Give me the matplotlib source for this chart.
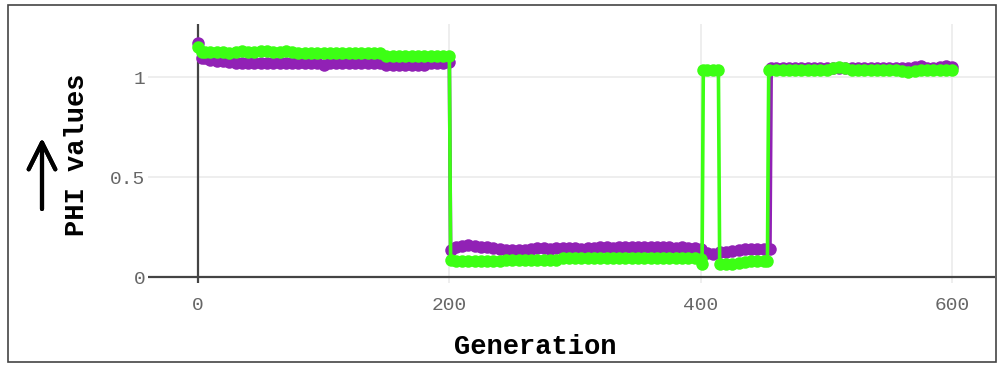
import matplotlib

matplotlib.use("Agg")
import matplotlib.pyplot as plt
from matplotlib.patches import Rectangle

# --- PHI per generation, two runs ---
purple_gen = [0, 3, 6, 10, 15, 20, 25, 30, 35, 40, 45, 50, 55, 60, 65, 70, 75, 80, 85, 90, 95,
              100, 105, 110, 115, 120, 125, 130, 135, 140, 145, 150, 155, 160, 165, 170, 175,
              180, 185, 190, 195, 200,
              201, 205, 210, 215, 220, 225, 230, 235, 240, 245, 250, 255, 260, 265, 270, 275,
              280, 285, 290, 295, 300, 305, 310, 315, 320, 325, 330, 335, 340, 345, 350, 355,
              360, 365, 370, 375, 380, 385, 390, 395, 400, 405, 410, 415, 420, 425, 430, 435,
              440, 445, 450, 455,
              456, 460, 465, 470, 475, 480, 485, 490, 495, 500, 505, 510, 515, 520, 525, 530,
              535, 540, 545, 550, 555, 560, 565, 570, 575, 580, 585, 590, 595, 600]
purple_phi = [1.17, 1.095, 1.095, 1.085, 1.08, 1.08, 1.075, 1.07, 1.07, 1.07, 1.07, 1.07, 1.07,
              1.07, 1.07, 1.07, 1.07, 1.07, 1.07, 1.07, 1.07,
              1.06, 1.07, 1.07, 1.07, 1.07, 1.07, 1.07, 1.07, 1.07, 1.07, 1.06, 1.06, 1.06,
              1.06, 1.06, 1.06, 1.06, 1.07, 1.07, 1.07, 1.075,
              0.135, 0.15, 0.155, 0.16, 0.155, 0.15, 0.15, 0.145, 0.14, 0.135, 0.135, 0.135,
              0.135, 0.14, 0.145, 0.145, 0.14, 0.145, 0.145, 0.145, 0.145, 0.14, 0.145, 0.145,
              0.15, 0.15, 0.145, 0.15, 0.15, 0.15, 0.15, 0.15, 0.15, 0.15, 0.15, 0.15, 0.145,
              0.15, 0.145, 0.145, 0.14, 0.12, 0.115, 0.125, 0.125, 0.13, 0.135, 0.14, 0.14,
              0.14, 0.14, 0.14,
              1.045, 1.045, 1.045, 1.045, 1.045, 1.045, 1.045, 1.045, 1.045, 1.045, 1.045,
              1.045, 1.045, 1.045, 1.045, 1.045, 1.045, 1.045, 1.045, 1.045, 1.045, 1.045,
              1.045, 1.05, 1.055, 1.045, 1.045, 1.05, 1.055, 1.05]

green_gen = [0, 3, 6, 10, 15, 20, 25, 30, 35, 40, 45, 50, 55, 60, 65, 70, 75, 80, 85, 90, 95,
             100, 105, 110, 115, 120, 125, 130, 135, 140, 145, 150, 155, 160, 165, 170, 175,
             180, 185, 190, 195, 200,
             201, 205, 210, 215, 220, 225, 230, 235, 240, 245, 250, 255, 260, 265, 270, 275,
             280, 285, 290, 295, 300, 305, 310, 315, 320, 325, 330, 335, 340, 345, 350, 355,
             360, 365, 370, 375, 380, 385, 390, 395, 400, 401,
             402, 405, 410, 414,
             415, 420, 425, 430, 435, 440, 445, 450, 453,
             454, 460, 465, 470, 475, 480, 485, 490, 495, 500, 505, 510, 515, 520, 525, 530,
             535, 540, 545, 550, 555, 560, 565, 570, 575, 580, 585, 590, 595, 600]
green_phi = [1.15, 1.125, 1.125, 1.125, 1.125, 1.125, 1.12, 1.125, 1.13, 1.125, 1.125, 1.13,
             1.13, 1.125, 1.125, 1.13, 1.125, 1.12, 1.12, 1.12, 1.12,
             1.12, 1.12, 1.12, 1.12, 1.12, 1.12, 1.12, 1.12, 1.12, 1.12, 1.105, 1.105, 1.105,
             1.105, 1.105, 1.105, 1.105, 1.105, 1.105, 1.105, 1.105,
             0.085, 0.08, 0.08, 0.08, 0.08, 0.08, 0.08, 0.08, 0.08, 0.085, 0.085, 0.085,
             0.085, 0.085, 0.085, 0.085, 0.085, 0.085, 0.095, 0.095, 0.095, 0.095, 0.095,
             0.095, 0.095, 0.095, 0.095, 0.095, 0.095, 0.095, 0.095, 0.095, 0.095, 0.095,
             0.095, 0.095, 0.095, 0.095, 0.095, 0.095, 0.09, 0.065,
             1.035, 1.035, 1.035, 1.035,
             0.065, 0.065, 0.065, 0.07, 0.075, 0.08, 0.08, 0.08, 0.08,
             1.035, 1.035, 1.035, 1.035, 1.035, 1.035, 1.035, 1.035, 1.035, 1.035, 1.045,
             1.05, 1.045, 1.035, 1.035, 1.035, 1.035, 1.035, 1.035, 1.035, 1.035, 1.03,
             1.025, 1.03, 1.035, 1.035, 1.035, 1.035, 1.035, 1.035]

x_ticks = [0, 200, 400, 600]
y_ticks = [0, 0.5, 1]
y_tick_labels = ["0", "0.5", "1"]

PURPLE = "#9121b5"
GREEN = "#3cff14"
MONO = ["Liberation Mono", "DejaVu Sans Mono"]

fig = plt.figure(figsize=(9.97, 3.65), dpi=100)
ax = fig.add_axes([148 / 997, 1 - 283 / 365, (995 - 148) / 997, (283 - 24) / 365])

for gen, phi, col in [(purple_gen, purple_phi, PURPLE), (green_gen, green_phi, GREEN)]:
    ax.plot(gen, phi, "-", color=col, lw=2.6, marker="o", ms=9, mew=0,
            solid_capstyle="round", zorder=4)

ax.set_xlim(-39.7, 634)
ax.set_ylim(-0.03, 1.265)

# grid + zero lines
ax.set_xticks(x_ticks)
ax.set_yticks(y_ticks)
ax.set_yticklabels(y_tick_labels)
ax.set_axisbelow(True)
ax.grid(color="#ebebeb", lw=1.2)
ax.axhline(0, color="#444444", lw=1.6, zorder=3)
ax.axvline(0, color="#444444", lw=1.6, zorder=3)
for s in ax.spines.values():
    s.set_visible(False)
ax.tick_params(length=0, labelsize=14, labelcolor="#666666")
ax.tick_params(axis="y", pad=2)
ax.tick_params(axis="x", pad=10)
for lab in ax.get_xticklabels() + ax.get_yticklabels():
    lab.set_family(MONO)

fig.text(535 / 997, 1 - 347 / 365, "Generation", ha="center", va="center",
         fontsize=19.5, fontweight="bold", family=MONO)
fig.text(77 / 997, 1 - 155 / 365, "PHI values", ha="center", va="center", rotation=90,
         fontsize=19.5, fontweight="bold", family=MONO)
fig.add_artist(plt.annotate("", xy=(42 / 997, 1 - 138 / 365), xytext=(42 / 997, 1 - 209 / 365),
                            xycoords="figure fraction", textcoords="figure fraction",
                            arrowprops=dict(arrowstyle="->", lw=3, color="black",
                                            mutation_scale=48, shrinkA=0, shrinkB=0)))

# outer frame
fig.add_artist(Rectangle((8 / 997, 1 - 362 / 365), (996 - 8) / 997, (362 - 5) / 365,
                         transform=fig.transFigure, fill=False, ec="#444444", lw=1.2))

fig.savefig("out.png", dpi=100)
